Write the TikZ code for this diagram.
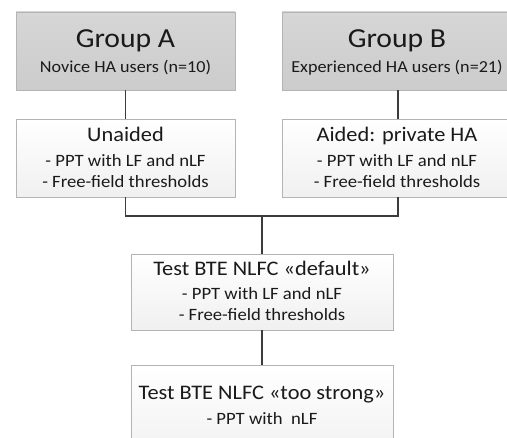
\documentclass[tikz,border=0pt]{standalone}
\usepackage{fontspec}
\setmainfont[FakeStretch=1.08]{Carlito}
\usetikzlibrary{shadows}
\definecolor{grpfill}{HTML}{CCCCCC}
\definecolor{grpfilltop}{HTML}{D6D6D6}
\definecolor{boxborder}{HTML}{B4B4B4}
\definecolor{boxbottom}{HTML}{F0F0F0}
\definecolor{txt}{HTML}{1A1A1A}
\definecolor{conn}{HTML}{3C3C3C}
\tikzset{
  base/.style={draw=boxborder, line width=0.8pt, inner sep=0pt, outer sep=0pt,
    drop shadow={shadow xshift=1.2pt, shadow yshift=-1.5pt, opacity=0.25, fill=black!50}},
  grp/.style={base, top color=grpfilltop, bottom color=grpfill},
  wbox/.style={base, top color=white, bottom color=boxbottom},
  ttl/.style={anchor=base, text=txt, font=\fontsize{27.5}{30}\selectfont, inner sep=0pt},
  sub/.style={anchor=base, text=txt, font=\fontsize{16.8}{18}\selectfont, inner sep=0pt},
  bul/.style={anchor=base, text=txt, font=\fontsize{17.3}{19}\selectfont, inner sep=0pt},
  btl/.style={anchor=base, text=txt, font=\fontsize{20.7}{22}\selectfont, inner sep=0pt},
  conline/.style={draw=conn, line width=1.2pt}
}
\begin{document}
\begin{tikzpicture}[x=1pt, y=-1pt]
\useasboundingbox (0,0) rectangle (507,438);
\clip (0,0) rectangle (507,438);
\fill[white] (0,0) rectangle (507,438);
% boxes
\node[grp, minimum width=219pt, minimum height=78pt] (ga) at (125.5,51) {};
\node[grp, minimum width=230pt, minimum height=78pt] (gb) at (397,51) {};
\node[wbox, minimum width=219pt, minimum height=78pt] (ua) at (125.5,158) {};
\node[wbox, minimum width=230pt, minimum height=78pt] (ai) at (397,158) {};
\node[wbox, minimum width=262pt, minimum height=76pt] (df) at (262,292) {};
\node[wbox, minimum width=262pt, minimum height=100pt] (ts) at (262,415) {};
% connectors
\coordinate (jl) at (125.5,216);
\coordinate (jr) at (398,216);
\coordinate (jc) at (262,216);
\coordinate (gbb) at (398,90);
\coordinate (ait) at (398,119);
\coordinate (aib) at (398,197);
\draw[conline] (ga.south) -- (ua.north);
\draw[conline] (gbb) -- (ait);
\draw[conline] (ua.south) -- (jl) -- (jr) -- (aib);
\draw[conline] (jc) -- (df.north);
\draw[conline] (df.south) -- (ts.north);
% texts
\node[ttl] (gat) at (125.5,48) {Group A};
\node[sub] (gas) at (125.5,73) {Novice HA users (n=10)};
\node[ttl] (gbt) at (397,48) {Group B};
\node[sub] (gbs) at (397,73) {Experienced HA users (n=21)};
\node[btl] (uat) at (125.5,141.5) {Unaided};
\node[bul] (ua1) at (125.5,167) {- PPT with LF and nLF};
\node[bul] (ua2) at (125.5,187.5) {- Free-field thresholds};
\node[btl] (aitx) at (397,141.5) {Aided: private HA};
\node[bul] (ai1) at (397,167) {- PPT with LF and nLF};
\node[bul] (ai2) at (397,187.5) {- Free-field thresholds};
\node[btl] (dft) at (262,276) {Test BTE NLFC «default»};
\node[bul] (df1) at (262,300) {- PPT with LF and nLF};
\node[bul] (df2) at (262,320.5) {- Free-field thresholds};
\node[btl] (tst) at (262,400) {Test BTE NLFC «too strong»};
\node[bul] (ts1) at (262,425) {- PPT with\ \ nLF};
\end{tikzpicture}
\end{document}
